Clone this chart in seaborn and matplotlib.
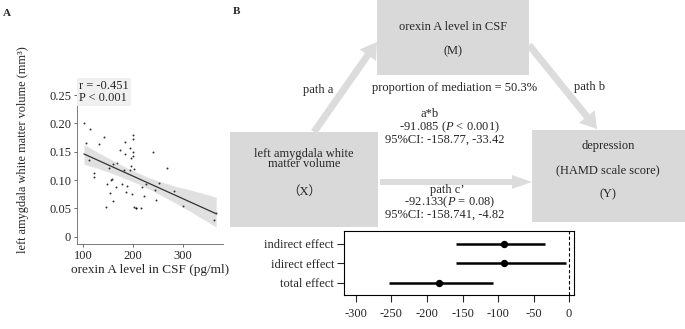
import numpy as np
import pandas as pd
import matplotlib
matplotlib.use("Agg")
import matplotlib.pyplot as plt
from matplotlib.patches import Rectangle, FancyArrow
import seaborn as sns

# panel A: orexin A (pg/ml) vs left amygdala white matter volume
orexin = [102, 107, 115, 113, 123, 123, 132, 142, 147, 149, 156, 158, 153, 155, 159,
          160, 168, 166, 174, 177, 181, 184, 183, 187, 186, 193, 196, 195, 194, 200,
          200, 200, 200, 201, 198, 201, 205, 206, 215, 218, 221, 226, 239, 243, 245,
          252, 268, 282, 299, 366, 362]
volume = [0.200, 0.165, 0.191, 0.135, 0.112, 0.105, 0.163, 0.176, 0.053, 0.093, 0.100,
          0.102, 0.122, 0.077, 0.064, 0.129, 0.130, 0.087, 0.153, 0.093, 0.117, 0.168,
          0.146, 0.090, 0.079, 0.157, 0.139, 0.125, 0.117, 0.180, 0.173, 0.150, 0.143,
          0.119, 0.075, 0.053, 0.051, 0.050, 0.051, 0.087, 0.072, 0.094, 0.149, 0.083,
          0.065, 0.095, 0.122, 0.081, 0.054, 0.042, 0.030]
yticks_a = [0, 0.05, 0.10, 0.15, 0.20, 0.25]
ytick_labels_a = ["0", "0.05", "0.10", "0.15", "0.20", "0.25"]
xticks_a = [100, 200, 300]

# panel B forest plot
effects = ["indirect effect", "idirect effect", "total effect"]
estimate = [-91.085, -92.133, -183.2]
ci_low = [-158.77, -158.741, -253.0]
ci_high = [-33.42, -4.82, -107.0]
xticks_b = [-300, -250, -200, -150, -100, -50, 0]

sns.set_theme(style="ticks")
plt.rcParams['font.family'] = ['Liberation Serif', 'Noto Sans CJK SC']
plt.rcParams['axes.unicode_minus'] = False
plt.rcParams['mathtext.fontset'] = 'custom'
plt.rcParams['mathtext.rm'] = 'Liberation Serif'
plt.rcParams['mathtext.it'] = 'Liberation Serif:italic'

W, H = 685, 329
fig = plt.figure(figsize=(W / 100, H / 100), dpi=100)

# diagram layer in pixel coordinates
diag = fig.add_axes([0, 0, 1, 1])
diag.set_xlim(0, W)
diag.set_ylim(H, 0)
diag.axis("off")

box_col = "#d9d9d9"
for (x0, y0, w, h) in [(377, 0, 152, 75), (230, 132, 148, 95), (532, 130, 153, 92)]:
    diag.add_patch(Rectangle((x0, y0), w, h, color=box_col, lw=0))

arrow_kw = dict(width=7, head_width=20, head_length=16, length_includes_head=True,
                color="#dcdcdc", lw=0)
diag.add_patch(FancyArrow(314, 132, 377 - 314, 42 - 132, **arrow_kw))
diag.add_patch(FancyArrow(529, 45, 597 - 529, 129 - 45, **arrow_kw))
diag.add_patch(FancyArrow(380, 182, 532 - 380, 0, width=6, head_width=14, head_length=20,
                          length_includes_head=True, color="#dcdcdc", lw=0))

fs = 9
t = dict(ha="center", va="center", fontsize=fs)
diag.text(453, 27, "orexin A level in CSF", **t)
diag.text(453, 51, "(M)", **t)
diag.text(304, 159, "left amygdala white\nmatter volume", linespacing=0.78, **t)
diag.text(304, 192, "（X）", **t)
diag.text(608, 146, "depression", **t)
diag.text(608, 170, "(HAMD scale score)", **t)
diag.text(608, 194, "(Y)", **t)
diag.text(318, 90, "path a", **t)
diag.text(455, 88, "proportion of mediation = 50.3%", **t)
diag.text(590, 87, "path b", **t)
diag.text(430, 114, "a*b", **t)
diag.text(445, 133, "   -91.085 ($P$ < 0.001)\n95%CI: -158.77, -33.42", linespacing=0.85, **t)
diag.text(447, 190, "path c’", **t)
diag.text(445, 208, "   -92.133($P$ = 0.08)\n95%CI: -158.741, -4.82", linespacing=0.85, **t)
diag.text(3, 14, "A", fontsize=8, fontweight="bold", va="center")
diag.text(233, 12, "B", fontsize=8, fontweight="bold", va="center")

# panel A scatter with regression
ax = fig.add_axes([0.113, 0.258, 0.213, 0.47])
df = pd.DataFrame({"orexin": orexin, "volume": volume})
sns.regplot(data=df, x="orexin", y="volume", ax=ax, color="#333333",
            scatter_kws=dict(s=2, color="black", linewidths=0),
            line_kws=dict(lw=0.9))
ax.set_xlim(89, 380)
ax.set_ylim(-0.013, 0.26)
ax.set_xticks(xticks_a)
ax.set_yticks(yticks_a)
ax.set_yticklabels(ytick_labels_a)
ax.tick_params(labelsize=9, length=2.5, width=0.6, color="#555555", pad=2)
for s in ["left", "bottom"]:
    ax.spines[s].set_color("#666666")
    ax.spines[s].set_linewidth(0.6)
sns.despine(ax=ax)
ax.set_xlabel("orexin A level in CSF (pg/ml)", fontsize=9.5, labelpad=1)
ax.set_ylabel("left amygdala white matter volume (mm³)", fontsize=8.8)
ax.yaxis.set_label_coords(-0.33, 0.61)
ax.text(0.01, 1.06, "r = -0.451\nP < 0.001", transform=ax.transAxes, fontsize=9,
        va="top", ha="left", linespacing=1.0,
        bbox=dict(facecolor="#f0f0f0", edgecolor="none", pad=1.5))

# panel B forest plot
fx = fig.add_axes([0.502, 0.1033, 0.336, 0.1947])
fd = pd.DataFrame({"effect": effects, "estimate": estimate, "lo": ci_low, "hi": ci_high})
fx.hlines(y=np.arange(len(fd)), xmin=fd["lo"], xmax=fd["hi"], color="black", lw=1.8)
sns.scatterplot(data=fd, x="estimate", y="effect", ax=fx, color="black", s=28,
                linewidth=0, zorder=3)
fx.axvline(0, color="black", ls=(0, (3, 2)), lw=0.8)
fx.set_xlim(-317, 7)
fx.set_ylim(2.64, -0.67)
fx.set_xticks(xticks_b)
fx.set_yticks(range(len(effects)))
fx.set_yticklabels(effects)
fx.set_xlabel("")
fx.set_ylabel("")
fx.tick_params(labelsize=9, length=5, width=0.8, pad=2)
fx.tick_params(axis="x", pad=4)
for s in fx.spines.values():
    s.set_linewidth(0.8)
    s.set_color("black")

fig.savefig("out.png", dpi=100)
